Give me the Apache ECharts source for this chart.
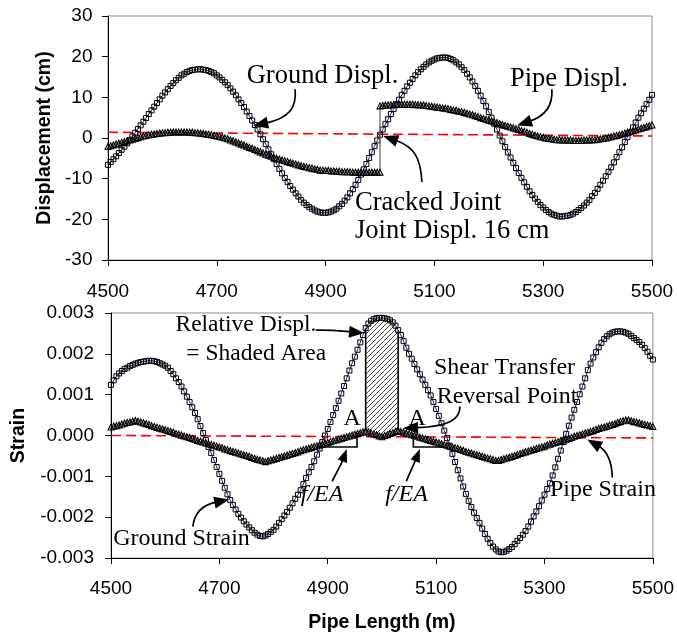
<!DOCTYPE html>
<html>
<head>
<meta charset="utf-8">
<script src="https://cdn.jsdelivr.net/npm/echarts@6/dist/echarts.min.js"></script>
<style>
html,body{margin:0;padding:0;background:#fff;}
#chart{width:677px;height:637px;}
</style>
</head>
<body>
<div id="chart"></div>
<script>
// ---------------- DATA ----------------
const pipeLength = [
4500,4505,4510,4515,4520,4525,4530,4535,4540,4545,4550,4555,4560,4565,4570,4575,4580,4585,4590,4595,
4600,4605,4610,4615,4620,4625,4630,4635,4640,4645,4650,4655,4660,4665,4670,4675,4680,4685,4690,4695,
4700,4705,4710,4715,4720,4725,4730,4735,4740,4745,4750,4755,4760,4765,4770,4775,4780,4785,4790,4795,
4800,4805,4810,4815,4820,4825,4830,4835,4840,4845,4850,4855,4860,4865,4870,4875,4880,4885,4890,4895,
4900,4905,4910,4915,4920,4925,4930,4935,4940,4945,4950,4955,4960,4965,4970,4975,4980,4985,4990,4995,
5000,5005,5010,5015,5020,5025,5030,5035,5040,5045,5050,5055,5060,5065,5070,5075,5080,5085,5090,5095,
5100,5105,5110,5115,5120,5125,5130,5135,5140,5145,5150,5155,5160,5165,5170,5175,5180,5185,5190,5195,
5200,5205,5210,5215,5220,5225,5230,5235,5240,5245,5250,5255,5260,5265,5270,5275,5280,5285,5290,5295,
5300,5305,5310,5315,5320,5325,5330,5335,5340,5345,5350,5355,5360,5365,5370,5375,5380,5385,5390,5395,
5400,5405,5410,5415,5420,5425,5430,5435,5440,5445,5450,5455,5460,5465,5470,5475,5480,5485,5490,5495,
5500
];

// Ground displacement (cm)
const groundDisp = [
-6.6,-5.9,-5.2,-4.5,-3.7,-2.9,-2.1,-1.3,-0.5,0.4,1.3,2.2,3.1,4.0,4.9,5.9,6.8,7.7,8.6,9.5,
10.4,11.2,12.0,12.8,13.5,14.2,14.8,15.4,15.8,16.2,16.5,16.7,16.8,16.9,16.9,16.8,16.7,16.5,16.2,15.9,
15.4,14.9,14.3,13.7,13.0,12.2,11.4,10.5,9.5,8.6,7.6,6.5,5.4,4.3,3.2,2.1,0.9,-0.3,-1.5,-2.8,
-4.0,-5.2,-6.4,-7.6,-8.7,-9.8,-10.8,-11.8,-12.7,-13.6,-14.4,-15.2,-15.9,-16.5,-17.0,-17.4,-17.8,-18.1,-18.3,-18.4,
-18.4,-18.3,-18.1,-17.8,-17.4,-16.8,-16.2,-15.4,-14.6,-13.6,-12.6,-11.5,-10.3,-9.0,-7.7,-6.4,-4.9,-3.5,-2.0,-0.6,
0.8,2.1,3.4,4.6,5.9,7.1,8.3,9.4,10.6,11.6,12.7,13.6,14.5,15.4,16.2,16.9,17.5,18.1,18.6,19.0,
19.3,19.6,19.7,19.8,19.8,19.7,19.4,19.1,18.6,18.1,17.4,16.7,15.8,14.9,13.9,12.8,11.6,10.4,9.1,7.8,
6.4,5.0,3.5,2.1,0.6,-0.8,-2.2,-3.5,-4.8,-6.1,-7.4,-8.6,-9.8,-10.9,-12.0,-13.1,-14.0,-14.9,-15.7,-16.5,
-17.1,-17.7,-18.2,-18.6,-18.9,-19.1,-19.3,-19.3,-19.2,-19.1,-18.9,-18.6,-18.2,-17.7,-17.2,-16.6,-15.9,-15.2,-14.3,-13.5,
-12.5,-11.5,-10.5,-9.4,-8.3,-7.2,-6.0,-4.7,-3.5,-2.3,-1.0,0.2,1.4,2.6,3.8,5.0,6.1,7.2,8.3,9.4,
10.6
];

// Pipe displacement (cm), west of the cracked joint (4500..5000)
const pipeDispWest = [
-2.1,-1.9,-1.7,-1.5,-1.3,-1.1,-0.9,-0.7,-0.5,-0.3,-0.1,0.1,0.3,0.5,0.6,0.8,0.9,1.0,1.1,1.2,
1.3,1.3,1.4,1.4,1.5,1.5,1.5,1.5,1.5,1.5,1.4,1.4,1.3,1.3,1.2,1.1,1.0,0.9,0.8,0.6,
0.5,0.4,0.2,0.0,-0.2,-0.5,-0.7,-1.0,-1.2,-1.5,-1.7,-2.0,-2.3,-2.5,-2.8,-3.1,-3.4,-3.7,-4.0,-4.2,
-4.5,-4.8,-5.0,-5.2,-5.4,-5.6,-5.8,-6.0,-6.2,-6.4,-6.6,-6.8,-7.0,-7.1,-7.3,-7.4,-7.6,-7.7,-7.9,-7.9,
-8.0,-8.0,-8.1,-8.1,-8.2,-8.2,-8.3,-8.3,-8.3,-8.3,-8.4,-8.4,-8.4,-8.4,-8.4,-8.4,-8.4,-8.4,-8.4,-8.4,
-8.4
];
// Pipe displacement (cm), east of the cracked joint (5000..5500)
const pipeDispEast = [
7.9,8.0,8.1,8.1,8.2,8.2,8.3,8.3,8.3,8.3,8.3,8.3,8.3,8.2,8.2,8.1,8.1,8.0,7.9,7.8,
7.7,7.6,7.5,7.4,7.3,7.2,7.0,6.9,6.8,6.6,6.5,6.3,6.1,5.9,5.7,5.5,5.3,5.0,4.8,4.6,
4.4,4.2,4.0,3.8,3.5,3.3,3.1,2.9,2.7,2.5,2.3,2.1,1.8,1.6,1.4,1.1,0.9,0.7,0.5,0.3,
0.2,0.0,-0.1,-0.2,-0.3,-0.4,-0.4,-0.5,-0.5,-0.5,-0.5,-0.6,-0.6,-0.6,-0.6,-0.5,-0.5,-0.5,-0.4,-0.4,
-0.3,-0.2,-0.1,0.0,0.2,0.3,0.5,0.6,0.8,1.0,1.2,1.4,1.6,1.8,2.0,2.2,2.4,2.6,2.8,3.0,
3.2
];

// Ground strain
const groundStrain = [
0.00124,0.00135,0.00145,0.00152,0.00158,0.00163,0.00166,0.00170,0.00173,0.00176,
0.00178,0.00180,0.00181,0.00182,0.00183,0.00183,0.00182,0.00180,0.00177,0.00174,
0.00171,0.00166,0.00158,0.00150,0.00140,0.00131,0.00120,0.00108,0.00095,0.00082,
0.00069,0.00055,0.00040,0.00023,0.00006,-0.00011,-0.00028,-0.00043,-0.00060,-0.00077,
-0.00094,-0.00111,-0.00128,-0.00144,-0.00158,-0.00170,-0.00181,-0.00192,-0.00201,-0.00210,
-0.00218,-0.00225,-0.00232,-0.00238,-0.00243,-0.00246,-0.00247,-0.00245,-0.00241,-0.00236,
-0.00231,-0.00223,-0.00214,-0.00205,-0.00196,-0.00187,-0.00177,-0.00166,-0.00155,-0.00145,
-0.00134,-0.00119,-0.00104,-0.00090,-0.00077,-0.00063,-0.00047,-0.00032,-0.00016,0.00000,
0.00016,0.00033,0.00050,0.00067,0.00085,0.00103,0.00121,0.00140,0.00159,0.00177,
0.00193,0.00210,0.00228,0.00246,0.00263,0.00274,0.00281,0.00285,0.00287,0.00288,
0.00288,0.00287,0.00285,0.00282,0.00277,0.00269,0.00258,0.00246,0.00231,0.00215,
0.00200,0.00188,0.00175,0.00162,0.00150,0.00137,0.00124,0.00111,0.00098,0.00082,
0.00065,0.00048,0.00030,0.00012,-0.00006,-0.00025,-0.00045,-0.00065,-0.00085,-0.00105,
-0.00125,-0.00143,-0.00160,-0.00175,-0.00189,-0.00202,-0.00214,-0.00228,-0.00241,-0.00253,
-0.00263,-0.00272,-0.00279,-0.00284,-0.00286,-0.00285,-0.00282,-0.00278,-0.00273,-0.00266,
-0.00258,-0.00251,-0.00243,-0.00234,-0.00223,-0.00211,-0.00198,-0.00186,-0.00173,-0.00159,
-0.00145,-0.00131,-0.00117,-0.00098,-0.00078,-0.00057,-0.00037,-0.00016,0.00004,0.00024,
0.00044,0.00063,0.00082,0.00101,0.00120,0.00140,0.00160,0.00176,0.00191,0.00204,
0.00216,0.00227,0.00236,0.00243,0.00248,0.00252,0.00254,0.00255,0.00255,0.00254,
0.00252,0.00249,0.00244,0.00239,0.00234,0.00229,0.00222,0.00214,0.00205,0.00195,
0.00186
];

// Pipe strain
const pipeStrain = [
0.00021,0.00023,0.00024,0.00026,0.00028,0.00030,0.00032,0.00033,0.00035,0.00037,
0.00035,0.00033,0.00031,0.00029,0.00027,0.00024,0.00022,0.00020,0.00018,0.00016,
0.00014,0.00012,0.00010,0.00008,0.00005,0.00003,0.00001,-0.00001,-0.00003,-0.00005,
-0.00007,-0.00009,-0.00012,-0.00014,-0.00016,-0.00018,-0.00020,-0.00022,-0.00024,-0.00026,
-0.00028,-0.00030,-0.00033,-0.00035,-0.00037,-0.00039,-0.00041,-0.00043,-0.00045,-0.00047,
-0.00049,-0.00051,-0.00054,-0.00056,-0.00058,-0.00060,-0.00062,-0.00064,-0.00062,-0.00060,
-0.00058,-0.00056,-0.00054,-0.00052,-0.00050,-0.00048,-0.00046,-0.00044,-0.00042,-0.00040,
-0.00037,-0.00035,-0.00033,-0.00031,-0.00029,-0.00027,-0.00025,-0.00023,-0.00021,-0.00019,
-0.00017,-0.00015,-0.00013,-0.00011,-0.00009,-0.00007,-0.00005,-0.00003,-0.00001,0.00001,
0.00003,0.00005,0.00007,0.00009,0.00011,0.00009,0.00006,0.00004,0.00002,-0.00001,
-0.00003,0.00000,0.00002,0.00005,0.00007,0.00010,0.00012,0.00010,0.00008,0.00006,
0.00004,0.00002,0.00000,-0.00002,-0.00004,-0.00006,-0.00008,-0.00010,-0.00012,-0.00014,
-0.00016,-0.00018,-0.00020,-0.00022,-0.00024,-0.00026,-0.00028,-0.00030,-0.00032,-0.00034,
-0.00036,-0.00039,-0.00041,-0.00043,-0.00045,-0.00047,-0.00049,-0.00051,-0.00053,-0.00055,
-0.00057,-0.00059,-0.00061,-0.00061,-0.00059,-0.00057,-0.00055,-0.00053,-0.00051,-0.00049,
-0.00047,-0.00044,-0.00042,-0.00040,-0.00038,-0.00036,-0.00034,-0.00032,-0.00030,-0.00028,
-0.00026,-0.00023,-0.00021,-0.00019,-0.00017,-0.00015,-0.00013,-0.00011,-0.00009,-0.00007,
-0.00005,-0.00002,0.00000,0.00002,0.00004,0.00006,0.00008,0.00010,0.00012,0.00015,
0.00017,0.00019,0.00021,0.00023,0.00025,0.00027,0.00029,0.00032,0.00034,0.00036,
0.00038,0.00038,0.00036,0.00034,0.00033,0.00031,0.00029,0.00027,0.00026,0.00024,
0.00022
];

// Red dashed reference lines (value at 4500 and at 5500)
const dispRefEnds = [1.4, 0.5];
const strainRefEnds = [0.0, -0.00006];

// Shaded area (relative displacement) limits, m
const shadedRange = [4970, 5030];

// Axis ranges / ticks
const xTicks = [4500, 5500, 200];
const dispTicks = [-30, 30, 10];
const strainTicks = [-0.003, 0.003, 0.001];

// ---------------- CHART ----------------
const chart = echarts.init(document.getElementById('chart'), null, {renderer: 'canvas'});

const SANS = '"Liberation Sans", Arial, Helvetica, sans-serif';
const SERIF = '"Liberation Serif", "Times New Roman", serif';

const pairs = (xs, ys) => ys.map((y, i) => [xs[i], y]);
const westX = pipeLength.slice(0, pipeDispWest.length);
const eastX = pipeLength.slice(pipeLength.length - pipeDispEast.length);
const pipeDispData = pairs(westX, pipeDispWest).concat(pairs(eastX, pipeDispEast));
const shadedIdx = pipeLength.map((x, i) => i).filter(i => pipeLength[i] >= shadedRange[0] && pipeLength[i] <= shadedRange[1]);

// hatch pattern
const hatch = document.createElement('canvas');
hatch.width = 5; hatch.height = 5;
(function () {
  const g = hatch.getContext('2d');
  g.strokeStyle = '#4a4a4a';
  g.lineWidth = 1;
  g.beginPath();
  g.moveTo(0, 5); g.lineTo(5, 0);
  g.moveTo(-1, 1); g.lineTo(1, -1);
  g.moveTo(4, 6); g.lineTo(6, 4);
  g.stroke();
})();

const labelStyle = {color: '#000', fontSize: 19, fontFamily: SANS};
const nameStyle = {color: '#000', fontSize: 19.5, fontWeight: 'bold', fontFamily: SANS};

function xAxisCfg(gi, margin, extra) {
  return Object.assign({
    gridIndex: gi, type: 'value', min: xTicks[0], max: xTicks[1], interval: xTicks[2],
    axisLine: {onZero: false, lineStyle: {color: '#000', width: 1}},
    axisTick: {show: true, length: 6, lineStyle: {color: '#000'}},
    axisLabel: Object.assign({margin: margin, formatter: v => String(v)}, labelStyle),
    splitLine: {show: false}
  }, extra || {});
}
function yAxisCfg(gi, ticks, extra) {
  return Object.assign({
    gridIndex: gi, type: 'value', min: ticks[0], max: ticks[1], interval: ticks[2],
    axisLine: {onZero: false, lineStyle: {color: '#000', width: 1}},
    axisTick: {show: true, length: 6, lineStyle: {color: '#000'}},
    splitLine: {show: false}
  }, extra || {});
}

const squareStyle = {color: 'rgba(255,255,255,0)', borderColor: '#000', borderWidth: 1};
const triStyle = {color: 'rgba(255,255,255,0)', borderColor: '#000', borderWidth: 1.1};

const option = {
  animation: false,
  backgroundColor: '#fff',
  grid: [
    {left: 108, top: 16, width: 544, height: 244, show: true, borderColor: '#8c8c8c', borderWidth: 1},
    {left: 111, top: 313, width: 545, height: 245, show: true, borderColor: '#8c8c8c', borderWidth: 1}
  ],
  xAxis: [
    xAxisCfg(0, 22),
    xAxisCfg(1, 21, {name: 'Pipe Length (m)', nameLocation: 'middle', nameGap: 55, nameTextStyle: nameStyle})
  ],
  yAxis: [
    yAxisCfg(0, dispTicks, {
      name: 'Displacement (cm)', nameLocation: 'middle', nameGap: 52, nameTextStyle: nameStyle,
      axisLabel: Object.assign({margin: 15.5}, labelStyle)
    }),
    yAxisCfg(1, strainTicks, {
      name: 'Strain', nameLocation: 'middle', nameGap: 82, nameTextStyle: nameStyle,
      axisLabel: Object.assign({margin: 17, formatter: v => (Math.abs(v) < 1e-12 ? 0 : v).toFixed(3)}, labelStyle)
    })
  ],
  series: [
    {
      type: 'line', xAxisIndex: 0, yAxisIndex: 0, z: 2, silent: true,
      data: [[pipeLength[0], dispRefEnds[0]], [pipeLength[pipeLength.length - 1], dispRefEnds[1]]],
      symbol: 'none', lineStyle: {color: '#ff0000', width: 1.6, type: [10, 5]}
    },
    {
      name: 'Ground Displ.', type: 'line', xAxisIndex: 0, yAxisIndex: 0, z: 3, silent: true,
      data: pairs(pipeLength, groundDisp),
      symbol: 'rect', symbolSize: 5, showSymbol: true,
      lineStyle: {color: '#1c1c9c', width: 1}, itemStyle: squareStyle
    },
    {
      name: 'Pipe Displ.', type: 'line', xAxisIndex: 0, yAxisIndex: 0, z: 4, silent: true,
      data: pipeDispData,
      symbol: 'triangle', symbolSize: 6, showSymbol: true,
      lineStyle: {color: '#606060', width: 1.2}, itemStyle: triStyle
    },
    {
      type: 'custom', xAxisIndex: 1, yAxisIndex: 1, z: 1, silent: true,
      data: [[shadedRange[0], 0]],
      renderItem: function (params, api) {
        const top = shadedIdx.map(i => api.coord([pipeLength[i], groundStrain[i]]));
        const bot = shadedIdx.map(i => api.coord([pipeLength[i], pipeStrain[i]]));
        const poly = top.concat(bot.slice().reverse());
        const n = top.length - 1;
        return {
          type: 'group',
          children: [
            {type: 'polygon', shape: {points: poly}, style: {fill: {image: hatch, repeat: 'repeat'}, stroke: null}},
            {type: 'line', shape: {x1: top[0][0], y1: top[0][1], x2: bot[0][0], y2: bot[0][1]}, style: {stroke: '#000', lineWidth: 1.6}},
            {type: 'line', shape: {x1: top[n][0], y1: top[n][1], x2: bot[n][0], y2: bot[n][1]}, style: {stroke: '#000', lineWidth: 1.6}}
          ]
        };
      }
    },
    {
      type: 'line', xAxisIndex: 1, yAxisIndex: 1, z: 2, silent: true,
      data: [[pipeLength[0], strainRefEnds[0]], [pipeLength[pipeLength.length - 1], strainRefEnds[1]]],
      symbol: 'none', lineStyle: {color: '#ff0000', width: 1.6, type: [10, 5]}
    },
    {
      name: 'Ground Strain', type: 'line', xAxisIndex: 1, yAxisIndex: 1, z: 3, silent: true,
      data: pairs(pipeLength, groundStrain),
      symbol: 'rect', symbolSize: 5, showSymbol: true,
      lineStyle: {color: '#1c1c9c', width: 1}, itemStyle: squareStyle
    },
    {
      name: 'Pipe Strain', type: 'line', xAxisIndex: 1, yAxisIndex: 1, z: 4, silent: true,
      data: pairs(pipeLength, pipeStrain),
      symbol: 'triangle', symbolSize: 6, showSymbol: true,
      lineStyle: {color: '#606060', width: 1.2}, itemStyle: triStyle
    }
  ]
};
chart.setOption(option);

// ---------------- ANNOTATIONS (anchored in data coordinates) ----------------
function px(g, p) { return chart.convertToPixel({gridIndex: g}, p); }
function note(g, p, text, size, italic) {
  const P = px(g, p);
  return {
    type: 'text', z: 100, silent: true, x: P[0], y: P[1] - 0.34 * size,
    style: {text: text, fill: '#000', font: (italic ? 'italic ' : '') + size + 'px ' + SERIF, align: 'left', verticalAlign: 'middle'}
  };
}
function arrow(g, s, c1, c2, tip, len, wid) {
  const S = px(g, s), C1 = px(g, c1), C2 = px(g, c2), T = px(g, tip);
  let dx = T[0] - C2[0], dy = T[1] - C2[1];
  const L = Math.hypot(dx, dy); dx /= L; dy /= L;
  const B = [T[0] - dx * len, T[1] - dy * len];
  const nx = -dy, ny = dx, w = wid / 2;
  return [
    {type: 'bezierCurve', z: 100, silent: true,
      shape: {x1: S[0], y1: S[1], cpx1: C1[0], cpy1: C1[1], cpx2: C2[0], cpy2: C2[1], x2: B[0] + dx * 2, y2: B[1] + dy * 2},
      style: {stroke: '#000', lineWidth: 1.7, fill: null}},
    {type: 'polygon', z: 100, silent: true,
      shape: {points: [T, [B[0] + nx * w, B[1] + ny * w], [B[0] - nx * w, B[1] - ny * w]]},
      style: {fill: '#000', stroke: null}}
  ];
}
function bracket(g, pts) {
  return {type: 'polyline', z: 100, silent: true, shape: {points: pts.map(p => px(g, p))}, style: {stroke: '#000', lineWidth: 1.6, fill: null}};
}

const g = [];
// top panel
g.push(note(0, [4755, 13.0], 'Ground Displ.', 26.5));
g.push(...arrow(0, [4844, 12.0], [4847, 7.4], [4833, 4.9], [4767, 3.0], 15, 12));
g.push(note(0, [5239, 12.3], 'Pipe Displ.', 26.5));
g.push(...arrow(0, [5316, 12.0], [5318, 7.9], [5304, 5.4], [5252, 3.1], 15, 12));
g.push(note(0, [4954, -18.1], 'Cracked Joint', 26.5));
g.push(note(0, [4954, -25.1], 'Joint Displ. 16 cm', 26.5));
g.push(...arrow(0, [5077, -10.8], [5075, -4.9], [5063, -2.2], [5006, 0.5], 15, 12));
// bottom panel
g.push(note(1, [4619, 0.00251], 'Relative Displ.', 23.5));
g.push(note(1, [4639, 0.00181], '= Shaded Area', 23.5));
g.push(...arrow(1, [4878, 0.00258], [4911, 0.00259], [4929, 0.00255], [4967, 0.00251], 15, 12));
g.push(note(1, [5096, 0.00145], 'Shear Transfer', 24));
g.push(note(1, [5101, 0.00075], 'Reversal Point', 24));
g.push(...arrow(1, [5144, 0.00071], [5144, 0.00041], [5126, 0.00022], [5039, 0.00018], 15, 12));
g.push(note(1, [4929, 0.00022], 'A', 24));
g.push(note(1, [5049, 0.00022], 'A', 24));
g.push(bracket(1, [[4887, -0.00028], [4954, -0.00028], [4954, 0.00006]]));
g.push(bracket(1, [[5058, 0.00006], [5058, -0.00028], [5116, -0.00028]]));
g.push(note(1, [4850, -0.00165], 'f/EA', 24, true));
g.push(note(1, [5006, -0.00165], 'f/EA', 24, true));
g.push(...arrow(1, [4908, -0.00112], [4917, -0.00089], [4924, -0.00074], [4935, -0.00033], 13, 10));
g.push(...arrow(1, [5045, -0.00112], [5052, -0.00089], [5058, -0.00074], [5070, -0.00033], 13, 10));
g.push(note(1, [4504, -0.00272], 'Ground Strain', 24));
g.push(...arrow(1, [4651, -0.00223], [4654, -0.00187], [4669, -0.0017], [4718, -0.00157], 15, 12));
g.push(note(1, [5310, -0.00153], 'Pipe Strain', 24));
g.push(...arrow(1, [5425, -0.00103], [5425, -0.00059], [5412, -0.00035], [5379, -0.0001], 15, 12));

chart.setOption({graphic: {elements: g}});
</script>
</body>
</html>
